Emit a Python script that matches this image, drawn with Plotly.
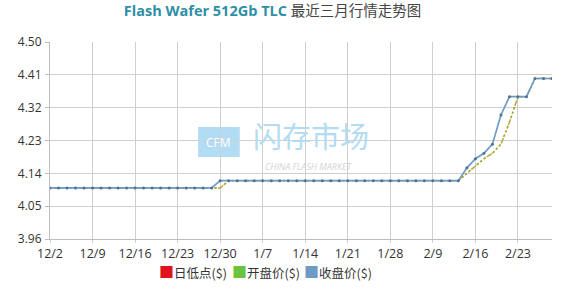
import plotly.graph_objects as go

# ---- data ----
tick_labels = ["12/2", "12/9", "12/16", "12/23", "12/30", "1/7", "1/14",
               "1/21", "1/28", "2/9", "2/16", "2/23"]
tick_positions = [0, 5, 10, 15, 20, 25, 30, 35, 40, 45, 50, 55]

close_price = ([4.10] * 20 + [4.12] * 29 +
               [4.155, 4.18, 4.195, 4.22, 4.30, 4.35, 4.35, 4.35, 4.40, 4.40, 4.40])
open_price = ([4.10] * 21 + [4.12] * 28 +
              [4.14, 4.16, 4.18, 4.195, 4.22, 4.28, 4.35, 4.35, 4.40, 4.40, 4.40])
low_price = list(open_price)
x_idx = list(range(len(close_price)))

y_ticks = [3.96, 4.05, 4.14, 4.23, 4.32, 4.41, 4.50]

series_names = ["日低点($)", "开盘价($)", "收盘价($)"]
RED = "#e0141e"
GREEN = "#6cc43c"
BLUE = "#6d9bc6"

fig = go.Figure()

# lines
fig.add_trace(go.Scatter(x=x_idx, y=low_price, mode="lines", name=series_names[0],
                         line=dict(color="#c9a62a", width=1.5, dash="2px,2px"),
                         showlegend=False, hoverinfo="skip"))
fig.add_trace(go.Scatter(x=x_idx, y=open_price, mode="lines", name=series_names[1],
                         line=dict(color="#9aa43a", width=1.5, dash="2px,3px"),
                         showlegend=False, hoverinfo="skip"))
fig.add_trace(go.Scatter(x=x_idx, y=close_price, mode="lines+markers", name=series_names[2],
                         line=dict(color=BLUE, width=1.7),
                         marker=dict(color="#4e7396", size=3),
                         showlegend=False))

# watermark
fig.add_shape(type="rect", xref="paper", yref="paper",
              x0=0.295, x1=0.378, y0=0.416, y1=0.569,
              fillcolor="#a9d8f3", line=dict(width=0), layer="below", opacity=0.9)
fig.add_annotation(xref="paper", yref="paper", x=0.336, y=0.492, text="CFM",
                   showarrow=False, font=dict(family="Open Sans", size=12, color="white"))
fig.add_annotation(xref="paper", yref="paper", x=0.52, y=0.53, text="闪存市场",
                   showarrow=False,
                   font=dict(family="Noto Sans CJK SC", size=29, color="#b3dcf3"))
fig.add_annotation(xref="paper", yref="paper", x=0.515, y=0.37, text="<i>CHINA FLASH MARKET</i>",
                   showarrow=False,
                   font=dict(family="Open Sans", size=9, color="#d4d4d4"))

# legend row (one annotation per series)
legend_colors = [RED, GREEN, BLUE]
legend_x = [0.213, 0.358, 0.502]
for c, n, lx in zip(legend_colors, series_names, legend_x):
    fig.add_annotation(xref="paper", yref="paper", x=lx, y=-0.165,
                       text=f"<span style='color:{c};font-size:15px'>■</span>{n}",
                       showarrow=False, xanchor="left", yanchor="middle",
                       font=dict(family="Noto Sans CJK SC", size=12.5, color="#333333"))

fig.update_layout(
    width=562, height=291,
    margin=dict(l=50, r=10, t=42, b=52),
    paper_bgcolor="white", plot_bgcolor="white",
    showlegend=False,
    font=dict(family="Open Sans, Noto Sans CJK SC", size=12, color="#333333"),
    title=dict(
        text="<b><span style='color:#2e8fa5'>Flash Wafer 512Gb TLC</span></b> "
             "<span style='color:#444444'>最近三月行情走势图</span>",
        x=0.485, xanchor="center", y=0.962, yanchor="middle",
        font=dict(family="Open Sans, Noto Sans CJK SC", size=14.5)),
    xaxis=dict(range=[0, 59], tickmode="array", tickvals=tick_positions,
               ticktext=tick_labels, showgrid=True, gridcolor="#cfcfcf", gridwidth=1,
               zeroline=False, showline=True, linecolor="#bdbdbd",
               ticks="outside", ticklen=3, tickcolor="#cfcfcf", ticklabelstandoff=0,
               tickfont=dict(size=12.5, color="#333333")),
    yaxis=dict(range=[3.96, 4.50], tickmode="array", tickvals=y_ticks,
               ticktext=[f"{v:.2f}" for v in y_ticks], showgrid=True,
               gridcolor="#cfcfcf", gridwidth=1, zeroline=False,
               showline=True, linecolor="#bdbdbd", ticks="outside", ticklen=4,
               tickcolor="#bdbdbd", ticklabelstandoff=1,
               tickfont=dict(size=12, color="#333333")),
)

fig.write_html("out.html")
